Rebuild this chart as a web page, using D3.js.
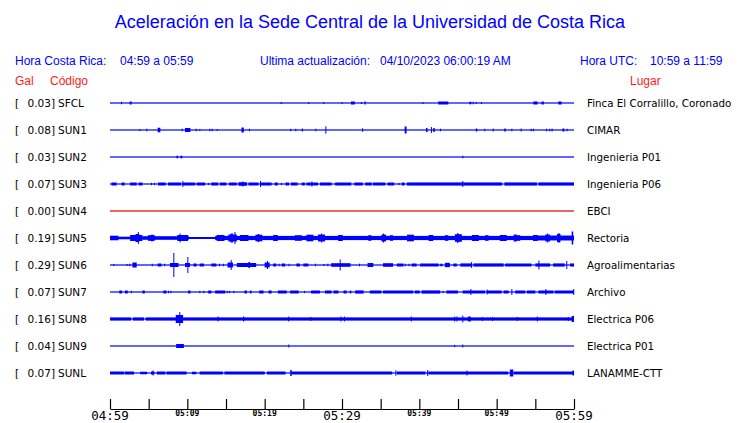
<!DOCTYPE html>
<html>
<head>
<meta charset="utf-8">
<script src="https://cdn.jsdelivr.net/npm/d3@7"></script>
<style>
  body { margin: 0; background: #fff; }
  svg { display: block; }
</style>
</head>
<body>
<svg id="chart" width="740" height="423"></svg>
<script>
// stations, top to bottom
const codes = ["SFCL", "SUN1", "SUN2", "SUN3", "SUN4", "SUN5", "SUN6", "SUN7", "SUN8", "SUN9", "SUNL"];
const gal = ["0.03", "0.08", "0.03", "0.07", "0.00", "0.19", "0.29", "0.07", "0.16", "0.04", "0.07"];
const places = ["Finca El Corralillo, Coronado", "CIMAR", "Ingenieria P01", "Ingenieria P06", "EBCI",
  "Rectoria", "Agroalimentarias", "Archivo", "Electrica P06", "Electrica P01", "LANAMME-CTT"];
const traceColor = ["blue", "blue", "blue", "blue", "#e00000", "blue", "blue", "blue", "blue", "blue", "blue"];

// time axis (minutes after 04:59)
const tickMinutes = [0, 5, 10, 15, 20, 25, 30, 35, 40, 45, 50, 55, 60];
const tickLabels = ["04:59", "", "05:09", "", "05:19", "", "05:29", "", "05:39", "", "05:49", "", "05:59"];
const bigLabels = ["04:59", "05:29", "05:59"];

// bursts: [start minute, duration minutes, half amplitude]
const evSFCL = [[1.42,0.1,0.013],[2.55,0.25,0.015],[22.07,0.1,0.01],[25.64,0.1,0.01],[27.58,0.1,0.01],[29.95,0.1,0.01],
  [31.16,0.5,0.015],[32.45,0.1,0.01],[32.9,0.17,0.015],[40.4,0.1,0.01],[42.45,1.3,0.015],[46.46,0.26,0.013],
  [46.9,0.1,0.013],[47.3,0.1,0.01],[47.97,0.1,0.01],[54.74,0.56,0.015],[55.8,0.3,0.015],[57.97,0.43,0.015]];
const evSUN1 = [[3.79,0.1,0.01],[4.7,0.1,0.013],[6.16,0.35,0.023],[9.27,0.1,0.013],[9.7,0.7,0.02],[11.08,0.1,0.013],
  [11.55,0.1,0.01],[12.85,0.1,0.013],[13.15,0.1,0.013],[13.8,0.1,0.01],[17.0,0.3,0.025],[17.97,0.1,0.013],
  [23.3,0.1,0.013],[23.96,0.1,0.013],[24.8,0.15,0.015],[26.55,0.1,0.013],[27.85,0.1,0.037],[32.6,0.1,0.018],
  [38.1,0.25,0.035],[40.86,0.2,0.02],[41.5,0.1,0.03],[41.8,0.2,0.02],[42.67,0.1,0.013],[47.3,0.2,0.015],
  [48.4,0.1,0.013],[49.48,0.1,0.015],[50.98,0.2,0.015],[51.9,0.1,0.013],[53.1,0.1,0.015],[54.4,0.1,0.013],
  [54.7,0.1,0.013],[56.4,0.1,0.013],[56.8,0.1,0.013],[57.1,0.1,0.015],[58.5,0.25,0.015],[59.05,0.1,0.013]];
const evSUN2 = [[8.6,0.2,0.013],[9.1,0.25,0.013],[45.56,0.1,0.013]];
const evSUN3 = [[0.2,0.65,0.015],[1.5,0.4,0.015],[2.6,0.85,0.015],[3.7,0.5,0.015],[5.3,0.1,0.012],[5.7,0.1,0.012],
  [6.2,1.0,0.015],[7.5,1.7,0.015],[9.35,0.1,0.03],[9.4,1.6,0.015],[11.2,1.1,0.015],[12.7,0.1,0.012],[13.1,0.9,0.015],
  [14.2,0.85,0.015],[15.4,1.0,0.015],[16.6,1.1,0.018],[17.1,0.1,0.025],[17.9,1.3,0.015],[19.4,0.1,0.03],
  [19.4,1.5,0.015],[21.3,0.4,0.015],[22.1,0.1,0.012],[22.7,0.45,0.015],[23.4,0.85,0.015],[24.8,0.4,0.015],
  [25.4,1.5,0.015],[26.05,0.1,0.025],[27.15,1.5,0.015],[29.1,2.1,0.015],[31.6,1.1,0.015],[33.0,0.85,0.015],
  [34.0,1.6,0.015],[35.9,0.85,0.015],[37.3,0.1,0.012],[37.7,0.4,0.015],[38.4,7.1,0.016],[45.55,0.1,0.03],
  [45.5,5.2,0.016],[51.0,4.2,0.016],[55.4,4.6,0.016]];
const evSUN4 = [];
const evSUN5 = [[0,60,0.01],[0,1.1,0.023],[1.1,1.5,0.013],[4.2,6.0,0.018],[13.6,46.4,0.021],
  [2.6,1.6,0.03],[3.3,0.5,0.04],[3.6,0.1,0.06],[4.9,0.9,0.028],[5.3,0.3,0.033],[8.7,1.4,0.03],[9.0,0.1,0.045],
  [13.8,1.0,0.03],[15.3,1.1,0.035],[15.6,0.3,0.045],[16.1,0.1,0.06],[16.8,1.1,0.03],[18.8,0.9,0.033],[19.1,0.2,0.04],
  [21.1,0.6,0.03],[23.9,0.9,0.028],[25.4,0.9,0.033],[26.9,0.9,0.035],[27.3,0.1,0.045],[29.5,0.6,0.03],[33.4,0.4,0.028],
  [35.1,0.6,0.035],[35.3,0.1,0.045],[36.2,0.4,0.028],[38.4,0.9,0.033],[41.2,0.6,0.03],[43.3,0.45,0.028],
  [44.6,0.9,0.038],[44.9,0.15,0.05],[46.8,0.9,0.03],[48.5,0.45,0.028],[50.4,0.9,0.03],[52.2,0.4,0.035],
  [52.6,0.45,0.028],[54.7,0.6,0.03],[55.0,5.0,0.024],[56.3,0.6,0.035],[56.5,0.1,0.045],[57.8,0.45,0.04],
  [58.0,0.1,0.05],[59.7,0.2,0.065]];
const evSUN6 = [[0.43,0.1,0.01],[2.15,0.1,0.01],[2.5,0.1,0.013],[2.9,0.55,0.025],[5.4,0.1,0.013],[6.16,0.5,0.015],
  [7.0,0.1,0.013],[7.76,1.1,0.02],[8.19,0.1,0.12],[9.7,0.65,0.02],[10.0,0.1,0.08],[10.8,0.4,0.015],
  [11.6,0.55,0.015],[13.1,0.65,0.015],[14.1,0.1,0.013],[14.6,0.1,0.013],[15.2,0.7,0.025],[15.6,0.1,0.05],
  [16.4,2.5,0.02],[17.9,0.2,0.03],[20.0,0.65,0.025],[20.3,0.1,0.04],[21.1,0.4,0.015],[21.8,0.1,0.013],
  [22.2,0.45,0.015],[23.1,0.1,0.013],[24.1,0.45,0.015],[25.0,0.65,0.015],[26.5,0.1,0.013],[27.6,0.1,0.01],
  [28.1,0.1,0.013],[28.6,2.5,0.018],[29.7,0.1,0.055],[32.2,0.1,0.013],[33.3,0.75,0.02],[35.3,1.3,0.018],
  [37.1,0.85,0.015],[38.1,0.1,0.013],[38.6,0.1,0.013],[39.0,0.65,0.015],[40.1,2.4,0.015],[42.7,0.3,0.013],
  [43.3,0.65,0.022],[44.4,0.45,0.015],[45.3,1.5,0.016],[46.7,0.1,0.03],[47.0,3.9,0.016],[51.1,3.4,0.015],
  [55.0,1.9,0.016],[55.4,0.1,0.045],[57.3,1.5,0.016],[59.0,0.1,0.04],[59.5,0.5,0.016]];
const evSUN7 = [[1.2,0.35,0.015],[1.95,0.35,0.015],[2.7,0.1,0.012],[4.2,0.3,0.015],[6.9,0.4,0.015],[7.5,0.1,0.012],
  [7.8,0.1,0.012],[10.1,0.3,0.015],[11.55,0.1,0.012],[12.07,0.1,0.012],[12.7,0.4,0.015],[13.6,1.3,0.015],
  [15.1,0.1,0.012],[15.4,0.1,0.012],[15.95,0.1,0.012],[17.4,0.3,0.015],[18.1,0.2,0.015],[19.3,0.55,0.015],
  [20.5,0.4,0.015],[21.7,1.15,0.015],[23.3,1.1,0.015],[25.1,0.1,0.012],[26.0,1.15,0.015],[27.8,0.85,0.015],
  [28.9,0.65,0.015],[30.2,0.4,0.015],[31.0,0.2,0.015],[31.7,1.1,0.016],[33.6,1.5,0.015],[35.3,3.9,0.015],
  [39.4,0.65,0.015],[40.3,2.4,0.016],[43.0,0.1,0.012],[43.5,1.5,0.015],[45.6,2.9,0.015],[46.6,0.1,0.03],
  [48.7,1.95,0.015],[48.7,0.1,0.025],[50.9,0.65,0.015],[51.9,0.1,0.03],[52.4,1.3,0.015],[53.9,1.1,0.015],
  [55.4,1.95,0.015],[56.3,0.1,0.03],[57.5,2.5,0.015],[59.9,0.1,0.03]];
const evSUN8 = [[0,2.75,0.016],[2.95,1.45,0.016],[4.6,55.4,0.016],[8.5,0.95,0.04],[8.96,0.1,0.07],[13.9,0.1,0.025],
  [17.2,0.15,0.025],[23.05,0.1,0.025],[25.9,0.1,0.02],[29.8,0.1,0.025],[30.25,0.1,0.025],[38.9,0.1,0.025],
  [44.5,0.1,0.025],[44.8,0.1,0.025],[45.55,0.1,0.035],[46.3,0.35,0.025],[48.1,0.1,0.02],[49.4,0.1,0.02],
  [52.6,0.1,0.02],[55.2,0.1,0.025],[59.2,0.1,0.02],[59.7,0.3,0.03]];
const evSUN9 = [[8.55,1.0,0.02],[23.05,0.1,0.015],[44.5,0.1,0.012],[45.55,0.1,0.015]];
const evSUNL = [[0,1.8,0.015],[1.9,1.2,0.015],[3.9,0.9,0.013],[5.3,0.45,0.015],[5.5,0.1,0.025],[6.05,1.1,0.015],
  [7.3,2.6,0.015],[10.6,0.55,0.013],[11.6,3.0,0.015],[14.8,5.2,0.015],[20.3,2.4,0.015],[23.3,0.2,0.03],
  [23.5,13.0,0.015],[36.9,0.1,0.028],[37.1,3.7,0.015],[41.0,0.15,0.028],[41.2,10.3,0.015],[46.1,0.1,0.025],
  [51.7,0.45,0.035],[52.2,7.8,0.015],[59.8,0.2,0.025]];
const events = [evSFCL, evSUN1, evSUN2, evSUN3, evSUN4, evSUN5, evSUN6, evSUN7, evSUN8, evSUN9, evSUNL];

const svg = d3.select("#chart");
const blue = "#0000ff";
const red = "#ff1a1a";

const x = d3.scaleLinear().domain([0, 60]).range([110, 574]);
const y = d3.scalePoint().domain(codes).range([103, 373]);
const amp = d3.scaleLinear().domain([0, 0.1]).range([0, 10]);

// title + header
svg.append("text")
  .attr("x", 370).attr("y", 28)
  .attr("text-anchor", "middle")
  .attr("font-family", "Liberation Sans, Arial, sans-serif")
  .attr("font-size", 18)
  .attr("fill", blue)
  .text("Aceleración en la Sede Central de la Universidad de Costa Rica");

const header = [
  { t: "Hora Costa Rica:", x: 15, y: 65, c: blue },
  { t: "04:59 a 05:59", x: 120, y: 65, c: blue },
  { t: "Ultima actualización:", x: 260, y: 65, c: blue },
  { t: "04/10/2023 06:00:19 AM", x: 380, y: 65, c: blue },
  { t: "Hora UTC:", x: 580, y: 65, c: blue },
  { t: "10:59 a 11:59", x: 650, y: 65, c: blue },
  { t: "Gal", x: 15, y: 85, c: red },
  { t: "Código", x: 50, y: 85, c: red },
  { t: "Lugar", x: 630, y: 85, c: red }
];
svg.selectAll(".hdr").data(header)
  .join("text").attr("class", "hdr")
  .attr("x", d => d.x).attr("y", d => d.y)
  .attr("font-family", "Liberation Sans, Arial, sans-serif")
  .attr("font-size", 12)
  .attr("fill", d => d.c)
  .text(d => d.t);

// one group per station
const rows = svg.selectAll(".row").data(codes)
  .join("g").attr("class", "row")
  .attr("transform", d => `translate(0,${y(d)})`);

const labelFont = "DejaVu Sans, sans-serif";
rows.append("text").attr("x", 15).attr("y", 4)
  .attr("font-family", labelFont).attr("font-size", 10.5).text("[");
rows.append("text").attr("x", 55).attr("y", 4)
  .attr("text-anchor", "end")
  .attr("font-family", labelFont).attr("font-size", 10.5)
  .text((d, i) => gal[i] + "]");
rows.append("text").attr("x", 58).attr("y", 4)
  .attr("font-family", labelFont).attr("font-size", 10.5)
  .text(d => d);
rows.append("text").attr("x", 587).attr("y", 4)
  .attr("font-family", labelFont).attr("font-size", 10.3)
  .text((d, i) => places[i]);

// baseline of each trace
rows.append("rect")
  .attr("x", x(0)).attr("y", -0.6)
  .attr("width", x(60) - x(0)).attr("height", 1.2)
  .attr("fill", (d, i) => traceColor[i]);

// bursts as blocks around the baseline
rows.each(function(code, i) {
  d3.select(this).selectAll(".burst").data(events[i])
    .join("rect").attr("class", "burst")
    .attr("x", d => x(d[0]))
    .attr("width", d => Math.max(1, x(d[0] + d[1]) - x(d[0])))
    .attr("y", d => -amp(d[2]))
    .attr("height", d => 2 * amp(d[2]))
    .attr("fill", traceColor[i]);
});

// time axis: ticks point up, labels below
const axisY = 409;
const axis = d3.axisTop(x)
  .tickValues(tickMinutes)
  .tickSize(10)
  .tickSizeOuter(0)
  .tickFormat("");
svg.append("g")
  .attr("transform", `translate(0,${axisY})`)
  .call(axis)
  .call(g => g.selectAll("line, path").attr("stroke", "#000").attr("stroke-width", 1.2));

svg.selectAll(".tlabel").data(tickMinutes.filter((m, i) => tickLabels[i] !== ""))
  .join("text").attr("class", "tlabel")
  .attr("x", d => x(d))
  .attr("text-anchor", "middle")
  .attr("font-family", "DejaVu Sans Mono, monospace")
  .each(function(d) {
    const lab = tickLabels[tickMinutes.indexOf(d)];
    const big = bigLabels.includes(lab);
    d3.select(this)
      .attr("y", big ? 420 : 416)
      .attr("font-size", big ? 12.5 : 8)
      .attr("font-weight", big ? "normal" : "bold")
      .text(lab);
  });
</script>
</body>
</html>
